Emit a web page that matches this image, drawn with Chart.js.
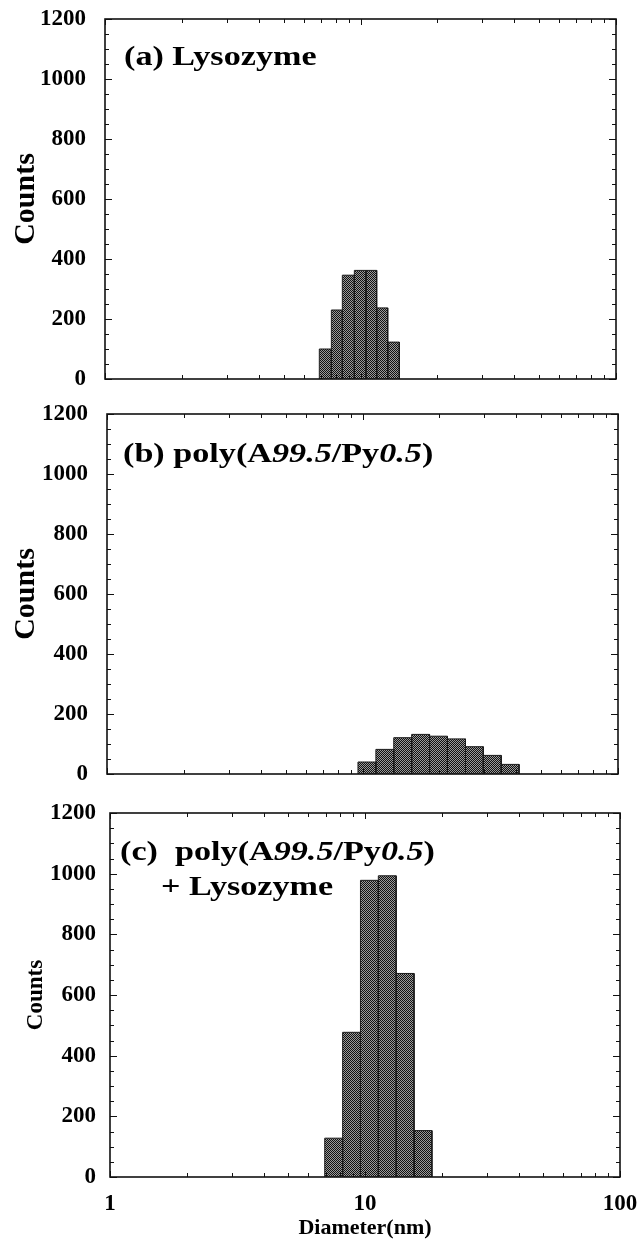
<!DOCTYPE html>
<html>
<head>
<meta charset="utf-8">
<script src="https://cdn.jsdelivr.net/npm/chart.js@4.4.1/dist/chart.umd.min.js"></script>
<style>
  html, body { margin: 0; padding: 0; background: #fff; }
  #page { position: relative; width: 638px; height: 1239px; background: #fff; }
  .panel { position: absolute; left: 0; width: 638px; }
</style>
</head>
<body>
<div id="page">
  <div class="panel" style="top:0px"><canvas id="chart-a" width="638" height="395"></canvas></div>
  <div class="panel" style="top:395px"><canvas id="chart-b" width="638" height="395"></canvas></div>
  <div class="panel" style="top:790px"><canvas id="chart-c" width="638" height="449"></canvas></div>
</div>
<script>
// Bin edges (nm) and counts
const lysoEdges = [6.90, 7.69, 8.49, 9.46, 10.5, 11.57, 12.78, 14.19];
const lysoCounts = [100, 230, 346, 362, 362, 237, 123];

const polyEdges = [9.6, 11.28, 13.25, 15.57, 18.3, 21.5, 25.3, 29.7, 34.9, 41.0];
const polyCounts = [40, 82, 121, 132, 126, 117, 91, 62, 32];

const mixEdges = [6.95, 8.17, 9.6, 11.28, 13.25, 15.57, 18.3];
const mixCounts = [128, 477, 978, 993, 671, 153];

// Axis ticks
const countTicks = [0, 200, 400, 600, 800, 1000, 1200];
const diameterTicks = [1, 10, 100];

const SERIF = '"Liberation Serif", "Times New Roman", serif';

// dithered fill like the printed bars
function makeHatch() {
  const c = document.createElement("canvas");
  c.width = 2; c.height = 2;
  const g = c.getContext("2d");
  g.fillStyle = "#9a9a9a";
  g.fillRect(0, 0, 2, 2);
  g.fillStyle = "#111";
  g.fillRect(0, 0, 1, 1);
  g.fillRect(1, 1, 1, 1);
  return g.createPattern(c, "repeat");
}
const hatch = makeHatch();

// one closed rectangle per histogram bin
function barDatasets(edges, counts) {
  return counts.map((c, i) => ({
    data: [
      { x: edges[i], y: 0 },
      { x: edges[i], y: c },
      { x: edges[i + 1], y: c },
      { x: edges[i + 1], y: 0 }
    ],
    fill: "origin",
    backgroundColor: hatch,
    borderColor: "#1a1a1a",
    borderWidth: 1,
    pointRadius: 0,
    tension: 0
  }));
}

// box + inward tick marks on all four sides
const framePlugin = {
  id: "frame",
  afterDraw(chart) {
    const { ctx, chartArea: a, scales } = chart;
    const x = scales.x, y = scales.y;
    ctx.save();
    ctx.strokeStyle = "#111";
    ctx.lineWidth = 1;
    ctx.beginPath();
    // y ticks: major at labels, minor every 50
    for (let i = 0; i < countTicks.length; i++) {
      const v = countTicks[i];
      const py = Math.round(y.getPixelForValue(v)) + 0.5;
      ctx.moveTo(a.left, py); ctx.lineTo(a.left + 7, py);
      ctx.moveTo(a.right, py); ctx.lineTo(a.right - 7, py);
      if (i < countTicks.length - 1) {
        for (let m = 50; m < 200; m += 50) {
          const my = Math.round(y.getPixelForValue(v + m)) + 0.5;
          ctx.moveTo(a.left, my); ctx.lineTo(a.left + 4, my);
          ctx.moveTo(a.right, my); ctx.lineTo(a.right - 4, my);
        }
      }
    }
    // x ticks: decades and 2..9 minors
    diameterTicks.forEach((d, i) => {
      const px = Math.round(x.getPixelForValue(d)) + 0.5;
      ctx.moveTo(px, a.bottom); ctx.lineTo(px, a.bottom - 6);
      ctx.moveTo(px, a.top); ctx.lineTo(px, a.top + 6);
      if (i < diameterTicks.length - 1) {
        for (let k = 2; k < 10; k++) {
          const mx = Math.round(x.getPixelForValue(k * d)) + 0.5;
          ctx.moveTo(mx, a.bottom); ctx.lineTo(mx, a.bottom - 4);
          ctx.moveTo(mx, a.top); ctx.lineTo(mx, a.top + 4);
        }
      }
    });
    ctx.stroke();
    ctx.lineWidth = 1.6;
    ctx.strokeRect(a.left, a.top, a.right - a.left, a.bottom - a.top);
    ctx.restore();
  }
};

// panel label inside the plot, mixed bold / bold italic runs
function makeLabelPlugin(lines) {
  return {
    id: "panelLabel",
    afterDraw(chart) {
      const ctx = chart.ctx;
      ctx.save();
      ctx.fillStyle = "#000";
      ctx.textBaseline = "alphabetic";
      lines.forEach(line => {
        ctx.save();
        ctx.translate(line.x, line.y);
        ctx.scale(1.22, 1);
        let cx = 0;
        line.runs.forEach(([t, italic]) => {
          ctx.font = (italic ? "italic " : "") + "bold 28px " + SERIF;
          ctx.fillText(t, cx, 0);
          cx += ctx.measureText(t).width;
        });
        ctx.restore();
      });
      ctx.restore();
    }
  };
}

function makeChart(id, edges, counts, cfg) {
  return new Chart(document.getElementById(id), {
    type: "line",
    data: { datasets: barDatasets(edges, counts) },
    options: {
      responsive: false,
      animation: false,
      devicePixelRatio: 1,
      layout: { padding: { top: cfg.top, right: 638 - cfg.right, left: 0, bottom: 0 } },
      plugins: { legend: { display: false }, tooltip: { enabled: false } },
      scales: {
        x: {
          type: "logarithmic",
          min: 1,
          max: 100,
          grid: { display: false, drawTicks: false },
          border: { display: false },
          ticks: {
            display: cfg.showX,
            autoSkip: false,
            maxRotation: 0,
            padding: 13,
            color: "#000",
            font: { family: SERIF, weight: "bold", size: 23 },
            callback: v => diameterTicks.includes(v) ? String(v) : ""
          },
          title: {
            display: cfg.showX,
            text: "Diameter(nm)",
            color: "#000",
            font: { family: SERIF, weight: "bold", size: 22, lineHeight: 1 },
            padding: { top: 0, bottom: 0 }
          },
          afterFit: s => {
            s.height = cfg.xHeight;
            s.paddingLeft = 0; s.paddingRight = 0;
          }
        },
        y: {
          min: 0,
          max: 1200,
          afterBuildTicks: s => { s.ticks = countTicks.map(v => ({ value: v })); },
          grid: { display: false, drawTicks: false },
          border: { display: false },
          ticks: {
            padding: cfg.yPad,
            color: "#000",
            font: { family: SERIF, weight: "bold", size: 23 },
            callback: v => String(v)
          },
          title: {
            display: true,
            text: "Counts",
            color: "#000",
            font: { family: SERIF, weight: "bold", size: cfg.countsSize },
            padding: { top: cfg.countsPad, bottom: 0 }
          },
          afterFit: s => {
            s.width = cfg.left;
            s.paddingTop = 0; s.paddingBottom = 0;
          }
        }
      }
    },
    plugins: [framePlugin, makeLabelPlugin(cfg.lines)]
  });
}

makeChart("chart-a", lysoEdges, lysoCounts, {
  top: 19, left: 105, right: 616, xHeight: 16, showX: false,
  yPad: 19, countsSize: 30, countsPad: 8,
  lines: [{ x: 124, y: 65, runs: [["(a) Lysozyme", false]] }]
});

makeChart("chart-b", polyEdges, polyCounts, {
  top: 19, left: 107, right: 618, xHeight: 16, showX: false,
  yPad: 19, countsSize: 30, countsPad: 8,
  lines: [{ x: 123, y: 67, runs: [["(b) poly(A", false], ["99.5", true], ["/Py", false], ["0.5", true], [")", false]] }]
});

makeChart("chart-c", mixEdges, mixCounts, {
  top: 23, left: 110, right: 620, xHeight: 62, showX: true,
  yPad: 14, countsSize: 23, countsPad: 22,
  lines: [
    { x: 120, y: 70, runs: [["(c)  poly(A", false], ["99.5", true], ["/Py", false], ["0.5", true], [")", false]] },
    { x: 161, y: 105, runs: [["+ Lysozyme", false]] }
  ]
});
</script>
</body>
</html>
